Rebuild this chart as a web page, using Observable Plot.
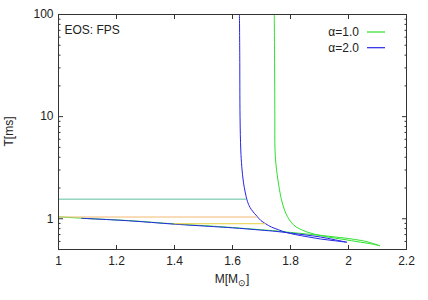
<!DOCTYPE html>
<html><head><meta charset="utf-8">
<script src="https://cdn.jsdelivr.net/npm/d3@7"></script>
<script src="https://cdn.jsdelivr.net/npm/@observablehq/plot@0.6"></script>
<style>
body{margin:0;background:#fff}
#chart svg{font-family:"Liberation Sans",Arial,Helvetica,sans-serif}
</style>
</head><body><div id="chart"></div>
<script>
// α=1.0 (green) – branch from the top down to the tip, then tip back to low mass
const green1M = [1.744,1.745,1.746,1.7466,1.7517,1.7621,1.769,1.7793,1.7897,1.810,1.830,1.855,1.880,1.903,1.940,1.972,2.010,2.041,2.075,2.107];
const green1T = [100,40,10,4.71,3.06,1.92,1.53,1.22,1.046,0.874,0.80,0.746,0.71,0.685,0.655,0.635,0.61,0.59,0.57,0.545];
const green2M = [2.107,2.070,2.040,2.000,1.970,1.930,1.900,1.855,1.800,1.750,1.700,1.600,1.534,1.400,1.241,1.100,1.000];
const green2T = [0.545,0.59,0.615,0.64,0.655,0.675,0.69,0.71,0.735,0.76,0.78,0.82,0.845,0.89,0.96,1.005,1.045];
// α=2.0 (blue)
const blue1M = [1.624,1.625,1.626,1.6286,1.632,1.638,1.650,1.657,1.6655,1.686,1.698,1.714,1.734,1.759,1.785,1.817,1.860,1.903,1.950,1.993];
const blue1T = [100,40,10,4.71,3.24,2.245,1.53,1.35,1.224,1.046,0.96,0.894,0.83,0.78,0.735,0.70,0.665,0.634,0.61,0.59];
const blue2M = [1.993,1.950,1.903,1.850,1.800,1.750,1.697,1.600,1.534,1.400,1.241,1.080];
const blue2T = [0.59,0.625,0.663,0.695,0.725,0.752,0.775,0.815,0.838,0.885,0.956,1.01];

const seriesNames = ["α=1.0", "α=2.0"];
const seriesColors = ["#2ee02e", "#2626e6"];

// horizontal reference lines
const refT = [1.556, 1.04, 0.894];
const refM1 = [1.0, 1.0, 1.40];
const refM2 = [1.649, 1.686, 1.714];
const refColors = ["#5dbf9f", "#f2b870", "#e8cf40"];

const xTicks = [1, 1.2, 1.4, 1.6, 1.8, 2, 2.2];
const yTicks = [1, 10, 100];
const yMinor = [0.6,0.7,0.8,0.9,2,3,4,5,6,7,8,9,20,30,40,50,60,70,80,90];

const rows = [];
const add = (Ms, Ts, s, b) => Ms.forEach((m, i) => rows.push({M: m, T: Ts[i], s, key: s + b}));
add(green1M, green1T, seriesNames[0], "a");
add(green2M, green2T, seriesNames[0], "b");
add(blue1M, blue1T, seriesNames[1], "a");
add(blue2M, blue2T, seriesNames[1], "b");
const refs = refT.map((t, i) => ({T: t, x1: refM1[i], x2: refM2[i], c: refColors[i]}));

const axisStroke = "#333";
const chart = Plot.plot({
  width: 428, height: 300,
  marginLeft: 58, marginRight: 22, marginTop: 14, marginBottom: 51,
  style: {fontSize: "12px", fontFamily: "Liberation Sans, Arial, sans-serif", color: "#222", background: "#fff"},
  x: {domain: [1, 2.2]},
  y: {type: "log", domain: [0.5, 100]},
  color: {domain: seriesNames, range: seriesColors},
  marks: [
    Plot.line(rows, {x: "M", y: "T", z: "key", stroke: "s", strokeWidth: 1, curve: "catmull-rom"}),
    Plot.ruleY(refs, {y: "T", x1: "x1", x2: "x2", stroke: "c", strokeWidth: 1}),
    Plot.axisX({anchor: "bottom", ticks: xTicks, tickSize: -4, tickPadding: 11, tickFormat: d => `${d}`, label: null, stroke: axisStroke}),
    Plot.axisX({anchor: "top", ticks: xTicks, tickSize: -4, tickFormat: () => "", label: null, stroke: axisStroke}),
    Plot.axisY({anchor: "left", ticks: yTicks, tickSize: -5, tickPadding: 10, tickFormat: d => `${d}`, label: null, stroke: axisStroke}),
    Plot.axisY({anchor: "left", ticks: yMinor, tickSize: -2.5, tickFormat: () => "", label: null, stroke: axisStroke}),
    Plot.axisY({anchor: "right", ticks: yTicks, tickSize: -5, tickFormat: () => "", label: null, stroke: axisStroke}),
    Plot.axisY({anchor: "right", ticks: yMinor, tickSize: -2.5, tickFormat: () => "", label: null, stroke: axisStroke}),
    Plot.frame({stroke: axisStroke, strokeWidth: 1}),
    Plot.text(["EOS: FPS"], {frameAnchor: "top-left", dx: 6, dy: 11, fontSize: 12, fill: "#222"})
  ]
});
document.getElementById("chart").append(chart);

// axis titles and legend
const svg = d3.select(chart);
svg.append("text").attr("transform", "translate(13,131.5) rotate(-90)")
  .attr("text-anchor", "middle").attr("font-size", 12).attr("fill", "#222").text("T[ms]");
const xl = svg.append("text").attr("x", 232).attr("y", 282.5)
  .attr("text-anchor", "middle").attr("font-size", 12).attr("fill", "#222");
xl.append("tspan").text("M[M");
xl.append("tspan").attr("dy", 3).attr("font-size", 9).text("⊙");
xl.append("tspan").attr("dy", -3).text("]");

const leg = svg.append("g");
seriesNames.forEach((name, i) => {
  const y = 32 + i * 15.7;
  leg.append("text").attr("x", 359).attr("y", y + 4.3).attr("text-anchor", "end")
    .attr("font-size", 12).attr("fill", "#222").text(name);
  leg.append("line").attr("x1", 367).attr("x2", 385).attr("y1", y).attr("y2", y)
    .attr("stroke", seriesColors[i]).attr("stroke-width", 1.2);
});
</script></body></html>
